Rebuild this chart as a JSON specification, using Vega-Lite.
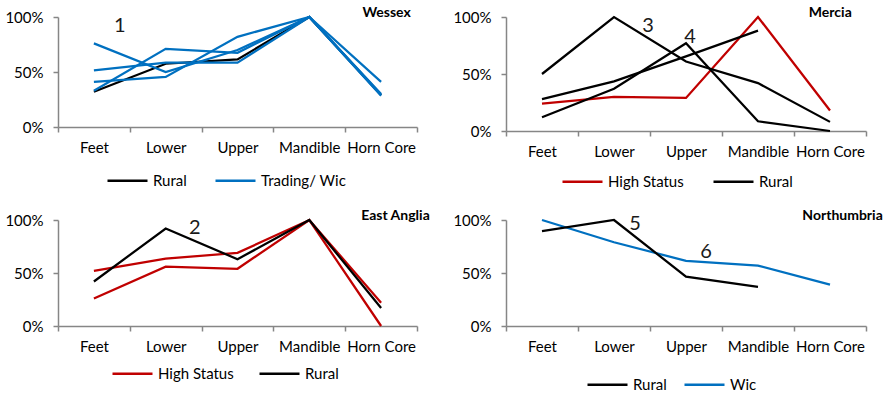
{
  "$schema": "https://vega.github.io/schema/vega-lite/v6.json",
  "padding": {"left": 4, "top": 6, "right": 0, "bottom": 0},
  "background": "white",
  "datasets": {
    "wessex": [
      {"series": "W-R", "group": "Rural", "part": "Feet", "value": 0.32},
      {"series": "W-R", "group": "Rural", "part": "Lower", "value": 0.575},
      {"series": "W-R", "group": "Rural", "part": "Upper", "value": 0.615},
      {"series": "W-R", "group": "Rural", "part": "Mandible", "value": 1.0},
      {"series": "W-R", "group": "Rural", "part": "Horn Core", "value": 0.29},
      {"series": "W-A", "group": "Trading/ Wic", "part": "Feet", "value": 0.76},
      {"series": "W-A", "group": "Trading/ Wic", "part": "Lower", "value": 0.50},
      {"series": "W-A", "group": "Trading/ Wic", "part": "Upper", "value": 0.70},
      {"series": "W-A", "group": "Trading/ Wic", "part": "Mandible", "value": 1.0},
      {"series": "W-A", "group": "Trading/ Wic", "part": "Horn Core", "value": 0.29},
      {"series": "W-B", "group": "Trading/ Wic", "part": "Feet", "value": 0.515},
      {"series": "W-B", "group": "Trading/ Wic", "part": "Lower", "value": 0.585},
      {"series": "W-B", "group": "Trading/ Wic", "part": "Upper", "value": 0.585},
      {"series": "W-B", "group": "Trading/ Wic", "part": "Mandible", "value": 1.0},
      {"series": "W-B", "group": "Trading/ Wic", "part": "Horn Core", "value": 0.30},
      {"series": "W-C", "group": "Trading/ Wic", "part": "Feet", "value": 0.33},
      {"series": "W-C", "group": "Trading/ Wic", "part": "Lower", "value": 0.71},
      {"series": "W-C", "group": "Trading/ Wic", "part": "Upper", "value": 0.675},
      {"series": "W-C", "group": "Trading/ Wic", "part": "Mandible", "value": 1.0},
      {"series": "W-C", "group": "Trading/ Wic", "part": "Horn Core", "value": 0.285},
      {"series": "W-D", "group": "Trading/ Wic", "part": "Feet", "value": 0.41},
      {"series": "W-D", "group": "Trading/ Wic", "part": "Lower", "value": 0.455},
      {"series": "W-D", "group": "Trading/ Wic", "part": "Upper", "value": 0.82},
      {"series": "W-D", "group": "Trading/ Wic", "part": "Mandible", "value": 1.0},
      {"series": "W-D", "group": "Trading/ Wic", "part": "Horn Core", "value": 0.41}
    ],
    "mercia": [
      {"series": "M-H", "group": "High Status", "part": "Feet", "value": 0.24},
      {"series": "M-H", "group": "High Status", "part": "Lower", "value": 0.30},
      {"series": "M-H", "group": "High Status", "part": "Upper", "value": 0.29},
      {"series": "M-H", "group": "High Status", "part": "Mandible", "value": 1.0},
      {"series": "M-H", "group": "High Status", "part": "Horn Core", "value": 0.18},
      {"series": "M-R1", "group": "Rural", "part": "Feet", "value": 0.50},
      {"series": "M-R1", "group": "Rural", "part": "Lower", "value": 1.0},
      {"series": "M-R1", "group": "Rural", "part": "Upper", "value": 0.61},
      {"series": "M-R1", "group": "Rural", "part": "Mandible", "value": 0.42},
      {"series": "M-R1", "group": "Rural", "part": "Horn Core", "value": 0.08},
      {"series": "M-R2", "group": "Rural", "part": "Feet", "value": 0.28},
      {"series": "M-R2", "group": "Rural", "part": "Lower", "value": 0.435},
      {"series": "M-R2", "group": "Rural", "part": "Upper", "value": 0.655},
      {"series": "M-R2", "group": "Rural", "part": "Mandible", "value": 0.88},
      {"series": "M-R3", "group": "Rural", "part": "Feet", "value": 0.12},
      {"series": "M-R3", "group": "Rural", "part": "Lower", "value": 0.37},
      {"series": "M-R3", "group": "Rural", "part": "Upper", "value": 0.77},
      {"series": "M-R3", "group": "Rural", "part": "Mandible", "value": 0.085},
      {"series": "M-R3", "group": "Rural", "part": "Horn Core", "value": 0.0}
    ],
    "eastanglia": [
      {"series": "E-H1", "group": "High Status", "part": "Feet", "value": 0.52},
      {"series": "E-H1", "group": "High Status", "part": "Lower", "value": 0.635},
      {"series": "E-H1", "group": "High Status", "part": "Upper", "value": 0.69},
      {"series": "E-H1", "group": "High Status", "part": "Mandible", "value": 1.0},
      {"series": "E-H1", "group": "High Status", "part": "Horn Core", "value": 0.22},
      {"series": "E-H2", "group": "High Status", "part": "Feet", "value": 0.26},
      {"series": "E-H2", "group": "High Status", "part": "Lower", "value": 0.56},
      {"series": "E-H2", "group": "High Status", "part": "Upper", "value": 0.54},
      {"series": "E-H2", "group": "High Status", "part": "Mandible", "value": 1.0},
      {"series": "E-H2", "group": "High Status", "part": "Horn Core", "value": 0.0},
      {"series": "E-R", "group": "Rural", "part": "Feet", "value": 0.42},
      {"series": "E-R", "group": "Rural", "part": "Lower", "value": 0.92},
      {"series": "E-R", "group": "Rural", "part": "Upper", "value": 0.63},
      {"series": "E-R", "group": "Rural", "part": "Mandible", "value": 1.0},
      {"series": "E-R", "group": "Rural", "part": "Horn Core", "value": 0.17}
    ],
    "northumbria": [
      {"series": "N-W", "group": "Wic", "part": "Feet", "value": 1.0},
      {"series": "N-W", "group": "Wic", "part": "Lower", "value": 0.79},
      {"series": "N-W", "group": "Wic", "part": "Upper", "value": 0.615},
      {"series": "N-W", "group": "Wic", "part": "Mandible", "value": 0.57},
      {"series": "N-W", "group": "Wic", "part": "Horn Core", "value": 0.39},
      {"series": "N-R", "group": "Rural", "part": "Feet", "value": 0.895},
      {"series": "N-R", "group": "Rural", "part": "Lower", "value": 1.0},
      {"series": "N-R", "group": "Rural", "part": "Upper", "value": 0.465},
      {"series": "N-R", "group": "Rural", "part": "Mandible", "value": 0.37}
    ],
    "notes": [
      {"note": "1", "part": "Feet", "value": 0.92},
      {"note": "2", "part": "Lower", "value": 0.925},
      {"note": "3", "part": "Lower", "value": 0.92},
      {"note": "4", "part": "Upper", "value": 0.825},
      {"note": "5", "part": "Lower", "value": 0.965},
      {"note": "6", "part": "Upper", "value": 0.695}
    ]
  },
  "columns": 2,
  "align": "each",
  "bounds": "flush",
  "spacing": {"row": 89, "column": 89},
  "resolve": {
    "scale": {"color": "independent", "x": "independent", "y": "independent"},
    "legend": {"color": "independent"}
  },
  "config": {
    "font": "Lato",
    "view": {"stroke": null},
    "axis": {
      "grid": false,
      "title": null,
      "domainColor": "#868686",
      "domainWidth": 1.5,
      "tickColor": "#868686",
      "tickWidth": 1.5,
      "tickSize": 5,
      "labelFontSize": 15,
      "labelColor": "#000000",
      "labelFont": "Lato"
    },
    "legend": {
      "orient": "none",
      "direction": "horizontal",
      "title": null,
      "symbolType": "stroke",
      "symbolSize": 1600,
      "symbolStrokeWidth": 2.5,
      "labelFontSize": 15,
      "labelColor": "#000000",
      "labelOffset": 4,
      "labelFont": "Lato"
    },
    "title": {"fontSize": 14, "fontWeight": "bold", "font": "Lato", "anchor": "end", "baseline": "alphabetic", "offset": -10, "color": "#000000"}
  },
  "concat": [
    {
      "width": 359, "height": 110,
      "title": {"text": "Wessex", "dx": -7},
      "layer": [
        {
          "data": {"name": "wessex"},
          "mark": {"type": "line", "strokeWidth": 2.25},
          "encoding": {
            "x": {"field": "part", "type": "nominal", "sort": ["Feet", "Lower", "Upper", "Mandible", "Horn Core"], "scale": {"type": "band", "paddingInner": 0, "paddingOuter": 0}, "axis": {"labelAngle": 0, "tickBand": "extent", "labelPadding": 8}},
            "y": {"field": "value", "type": "quantitative", "scale": {"domain": [0, 1], "nice": false}, "axis": {"values": [0, 0.5, 1], "format": ".0%", "labelPadding": 10}},
            "color": {"field": "group", "type": "nominal", "scale": {"domain": ["Rural", "Trading/ Wic"], "range": ["#000000", "#0070C0"]}, "legend": {"legendX": 48, "legendY": 142, "columnPadding": 23}},
            "detail": {"field": "series"}
          }
        },
        {
          "data": {"name": "notes"},
          "transform": [{"filter": "datum.note == '1'"}],
          "mark": {"type": "text", "fontSize": 20, "dx": 26, "font": "Lato", "color": "#1a1a1a"},
          "encoding": {
            "x": {"field": "part", "type": "nominal", "sort": ["Feet", "Lower", "Upper", "Mandible", "Horn Core"]},
            "y": {"field": "value", "type": "quantitative"},
            "text": {"field": "note"}
          }
        }
      ]
    },
    {
      "width": 360, "height": 114,
      "title": {"text": "Mercia", "dx": -15},
      "layer": [
        {
          "data": {"name": "mercia"},
          "mark": {"type": "line", "strokeWidth": 2.25},
          "encoding": {
            "x": {"field": "part", "type": "nominal", "sort": ["Feet", "Lower", "Upper", "Mandible", "Horn Core"], "scale": {"type": "band", "paddingInner": 0, "paddingOuter": 0}, "axis": {"labelAngle": 0, "tickBand": "extent", "labelPadding": 8}},
            "y": {"field": "value", "type": "quantitative", "scale": {"domain": [0, 1], "nice": false}, "axis": {"values": [0, 0.5, 1], "format": ".0%", "labelPadding": 10}},
            "color": {"field": "group", "type": "nominal", "scale": {"domain": ["High Status", "Rural"], "range": ["#C00000", "#000000"]}, "legend": {"legendX": 55, "legendY": 143, "columnPadding": 24}},
            "detail": {"field": "series"}
          }
        },
        {
          "data": {"name": "notes"},
          "transform": [{"filter": "datum.note == '3'"}],
          "mark": {"type": "text", "fontSize": 20, "dx": 34, "font": "Lato", "color": "#1a1a1a"},
          "encoding": {
            "x": {"field": "part", "type": "nominal", "sort": ["Feet", "Lower", "Upper", "Mandible", "Horn Core"]},
            "y": {"field": "value", "type": "quantitative"},
            "text": {"field": "note"}
          }
        },
        {
          "data": {"name": "notes"},
          "transform": [{"filter": "datum.note == '4'"}],
          "mark": {"type": "text", "fontSize": 20, "dx": 4, "font": "Lato", "color": "#1a1a1a"},
          "encoding": {
            "x": {"field": "part", "type": "nominal", "sort": ["Feet", "Lower", "Upper", "Mandible", "Horn Core"]},
            "y": {"field": "value", "type": "quantitative"},
            "text": {"field": "note"}
          }
        }
      ]
    },
    {
      "width": 359, "height": 106,
      "title": {"text": "East Anglia", "dx": 12},
      "layer": [
        {
          "data": {"name": "eastanglia"},
          "mark": {"type": "line", "strokeWidth": 2.25},
          "encoding": {
            "x": {"field": "part", "type": "nominal", "sort": ["Feet", "Lower", "Upper", "Mandible", "Horn Core"], "scale": {"type": "band", "paddingInner": 0, "paddingOuter": 0}, "axis": {"labelAngle": 0, "tickBand": "extent", "labelPadding": 8}},
            "y": {"field": "value", "type": "quantitative", "scale": {"domain": [0, 1], "nice": false}, "axis": {"values": [0, 0.5, 1], "format": ".0%", "labelPadding": 10}},
            "color": {"field": "group", "type": "nominal", "scale": {"domain": ["High Status", "Rural"], "range": ["#C00000", "#000000"]}, "legend": {"legendX": 53, "legendY": 132, "columnPadding": 20}},
            "detail": {"field": "series"}
          }
        },
        {
          "data": {"name": "notes"},
          "transform": [{"filter": "datum.note == '2'"}],
          "mark": {"type": "text", "fontSize": 20, "dx": 29, "font": "Lato", "color": "#1a1a1a"},
          "encoding": {
            "x": {"field": "part", "type": "nominal", "sort": ["Feet", "Lower", "Upper", "Mandible", "Horn Core"]},
            "y": {"field": "value", "type": "quantitative"},
            "text": {"field": "note"}
          }
        }
      ]
    },
    {
      "width": 360, "height": 106,
      "title": {"text": "Northumbria", "dx": 16},
      "layer": [
        {
          "data": {"name": "northumbria"},
          "mark": {"type": "line", "strokeWidth": 2.25},
          "encoding": {
            "x": {"field": "part", "type": "nominal", "sort": ["Feet", "Lower", "Upper", "Mandible", "Horn Core"], "scale": {"type": "band", "paddingInner": 0, "paddingOuter": 0}, "axis": {"labelAngle": 0, "tickBand": "extent", "labelPadding": 8}},
            "y": {"field": "value", "type": "quantitative", "scale": {"domain": [0, 1], "nice": false}, "axis": {"values": [0, 0.5, 1], "format": ".0%", "labelPadding": 10}},
            "color": {"field": "group", "type": "nominal", "scale": {"domain": ["Rural", "Wic"], "range": ["#000000", "#0070C0"]}, "legend": {"legendX": 80, "legendY": 143, "columnPadding": 12}},
            "detail": {"field": "series"}
          }
        },
        {
          "data": {"name": "notes"},
          "transform": [{"filter": "datum.note == '5'"}],
          "mark": {"type": "text", "fontSize": 20, "dx": 21, "font": "Lato", "color": "#1a1a1a"},
          "encoding": {
            "x": {"field": "part", "type": "nominal", "sort": ["Feet", "Lower", "Upper", "Mandible", "Horn Core"]},
            "y": {"field": "value", "type": "quantitative"},
            "text": {"field": "note"}
          }
        },
        {
          "data": {"name": "notes"},
          "transform": [{"filter": "datum.note == '6'"}],
          "mark": {"type": "text", "fontSize": 20, "dx": 20, "font": "Lato", "color": "#1a1a1a"},
          "encoding": {
            "x": {"field": "part", "type": "nominal", "sort": ["Feet", "Lower", "Upper", "Mandible", "Horn Core"]},
            "y": {"field": "value", "type": "quantitative"},
            "text": {"field": "note"}
          }
        }
      ]
    }
  ]
}
